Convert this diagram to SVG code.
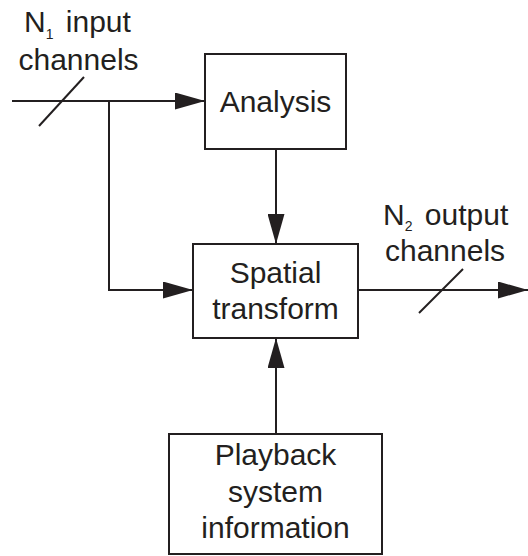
<svg xmlns="http://www.w3.org/2000/svg" width="528" height="556" viewBox="0 0 528 556">
<defs>
<style>
.box{fill:#fff;stroke:#231f20;stroke-width:2}
.ln{fill:none;stroke:#231f20;stroke-width:2}
.t{font-family:"Liberation Sans",Arial,sans-serif;font-size:30px;fill:#231f20;text-anchor:middle}
.tl{font-family:"Liberation Sans",Arial,sans-serif;font-size:30px;fill:#231f20}
.sub{font-size:14px}
</style>
<marker id="ah" markerUnits="userSpaceOnUse" markerWidth="30" markerHeight="17" refX="30" refY="8.5" orient="auto" viewBox="0 0 30 17">
<path d="M0,0 L30,8.5 L0,17 Z" fill="#231f20"/>
</marker>
</defs>
<rect width="528" height="556" fill="#fff"/>
<g id="connectors">
<path class="ln" d="M12,101 H205" marker-end="url(#ah)"/>
<path class="ln" d="M109,101 V290 H193" marker-end="url(#ah)"/>
<path class="ln" d="M276,149 V244" marker-end="url(#ah)"/>
<path class="ln" d="M276,434 V338" marker-end="url(#ah)"/>
<path class="ln" d="M358,290 H528" marker-end="url(#ah)"/>
<path class="ln" d="M39,126 L84,77"/>
<path class="ln" d="M419,313 L463,269"/>
</g>
<g id="label-input">
<text class="tl" x="24" y="32">N<tspan class="sub" dy="7">1</tspan><tspan dx="4" dy="-7"> input</tspan></text>
<text class="t" x="78.5" y="70">channels</text>
</g>
<g id="label-output">
<text class="tl" x="383" y="225">N<tspan class="sub" dy="6">2</tspan><tspan dx="4" dy="-6"> output</tspan></text>
<text class="t" x="445" y="261">channels</text>
</g>
<g id="analysis">
<rect class="box" x="205" y="54" width="141" height="95"/>
<text class="t" x="275.5" y="112">Analysis</text>
</g>
<g id="spatial">
<rect class="box" x="193" y="244" width="165" height="94"/>
<text class="t" x="275.5" y="283">Spatial</text>
<text class="t" x="275.5" y="319">transform</text>
</g>
<g id="playback">
<rect class="box" x="169" y="434" width="213" height="120"/>
<text class="t" x="275.5" y="465">Playback</text>
<text class="t" x="275.5" y="502">system</text>
<text class="t" x="275.5" y="538">information</text>
</g>
</svg>
